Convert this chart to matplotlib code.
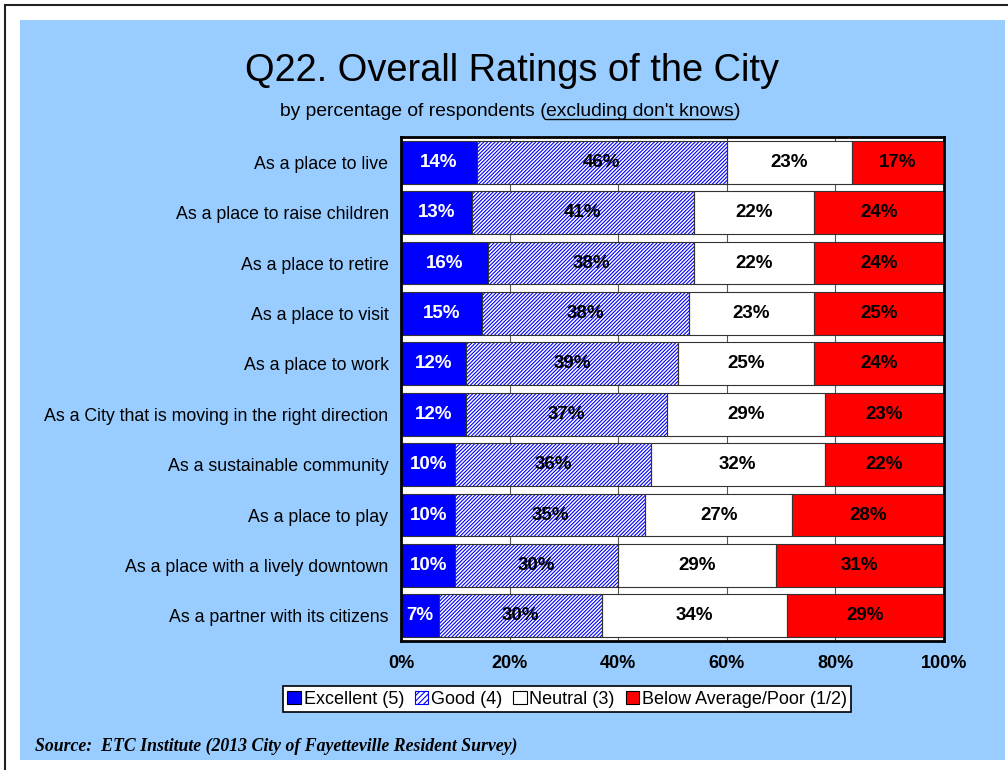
import matplotlib.pyplot as plt
from matplotlib.patches import Rectangle, Patch
import numpy as np

plt.rcParams['font.family'] = ['Liberation Sans', 'DejaVu Sans']
plt.rcParams['hatch.linewidth'] = 0.8

# survey data (percent of respondents)
categories = [
    "As a place to live",
    "As a place to raise children",
    "As a place to retire",
    "As a place to visit",
    "As a place to work",
    "As a City that is moving in the right direction",
    "As a sustainable community",
    "As a place to play",
    "As a place with a lively downtown",
    "As a partner with its citizens",
]
excellent = [14, 13, 16, 15, 12, 12, 10, 10, 10, 7]
good = [46, 41, 38, 38, 39, 37, 36, 35, 30, 30]
neutral = [23, 22, 22, 23, 25, 29, 32, 27, 29, 34]
below = [17, 24, 24, 25, 24, 23, 22, 28, 31, 29]
series_names = ["Excellent (5)", "Good (4)", "Neutral (3)", "Below Average/Poor (1/2)"]
xticks = [0, 20, 40, 60, 80, 100]

W, H = 1008, 770
fig = plt.figure(figsize=(W / 100, H / 100), dpi=100)
fig.patch.set_facecolor('white')

# background panel + frame line
fig.add_artist(Rectangle((20 / W, 1 - 760 / H), 985 / W, 740 / H,
                         transform=fig.transFigure, facecolor='#99CCFF',
                         edgecolor='none', zorder=0))
fig.add_artist(Rectangle((5 / W, -0.1), 1.2, 1 - 5 / H + 0.1,
                         transform=fig.transFigure, facecolor='none',
                         edgecolor='#222222', linewidth=1.5, zorder=0))

ax = fig.add_axes([401 / W, 1 - 641 / H, 543 / W, 504 / H])
ax.set_facecolor('white')

y = np.arange(len(categories))
h = 0.85
ex = np.array(excellent)
gd = np.array(good)
nt = np.array(neutral)
bl = np.array(below)
hatch = '/' * 9

ax.barh(y, ex, height=h, color='#0000FF', edgecolor='#333333', linewidth=0.8, zorder=2)
ax.barh(y, gd, left=ex, height=h, color='white', edgecolor='#0000FF',
        hatch=hatch, linewidth=0, zorder=2)
ax.barh(y, gd, left=ex, height=h, color='none', edgecolor='#333333', linewidth=0.8, zorder=3)
ax.barh(y, nt, left=ex + gd, height=h, color='white', edgecolor='#333333', linewidth=0.8, zorder=2)
ax.barh(y, bl, left=ex + gd + nt, height=h, color='#FF0000', edgecolor='#333333', linewidth=0.8, zorder=2)

starts = [np.zeros(len(y)), ex, ex + gd, ex + gd + nt]
for vals, st, col in zip([ex, gd, nt, bl], starts, ['white', 'black', 'black', 'black']):
    for i, (v, s) in enumerate(zip(vals, st)):
        ax.text(min(s + v / 2, (s + 100) / 2), i, f"{v}%", ha='center', va='center',
                color=col, fontsize=13.5, fontweight='bold', zorder=5)

ax.set_xlim(0, 100)
ax.set_ylim(len(categories) - 0.5, -0.5)
ax.set_yticks(y)
ax.set_yticklabels(categories, fontsize=12.8)
ax.tick_params(axis='y', length=0, pad=9)
ax.set_xticks(xticks)
ax.set_xticklabels([f"{t}%" for t in xticks], fontsize=13, fontweight='bold')
ax.tick_params(axis='x', length=0, pad=10)
ax.xaxis.grid(True, color='#555555', linewidth=0.8, zorder=0)
ax.set_axisbelow(True)
for sp in ax.spines.values():
    sp.set_linewidth(2)
    sp.set_color('black')

# title + subtitle
fig.text(512 / W, 1 - 71 / H, "Q22. Overall Ratings of the City", ha='center',
         va='center', fontsize=27.4)

renderer = fig.canvas.get_renderer()
parts = ["by percentage of respondents (", "excluding don't knows", ")"]
sub_kw = dict(fontsize=13.9, va='baseline', ha='left')
widths = []
for p in parts:
    t = fig.text(0, 0, p, **sub_kw)
    widths.append(t.get_window_extent(renderer).width)
    t.remove()
x0 = 510 - sum(widths) / 2
base = H - 116
xpos = x0
for k, p in enumerate(parts):
    fig.text(xpos / W, base / H, p, **sub_kw)
    if k == 1:
        fig.add_artist(plt.Line2D([xpos / W, (xpos + widths[k]) / W],
                                  [(base - 3) / H, (base - 3) / H],
                                  transform=fig.transFigure, color='black', linewidth=1.0))
    xpos += widths[k]

# legend
handles = [
    Patch(facecolor='#0000FF', edgecolor='black', linewidth=0.8),
    Patch(facecolor='white', edgecolor='#0000FF', hatch='/' * 6, linewidth=0.8),
    Patch(facecolor='white', edgecolor='black', linewidth=0.8),
    Patch(facecolor='#FF0000', edgecolor='black', linewidth=0.8),
]
leg = fig.legend(handles, series_names, loc='center', bbox_to_anchor=(567 / W, 1 - 699 / H),
                 ncol=4, fontsize=13, frameon=True, fancybox=False, handlelength=0.75,
                 handleheight=0.75, handletextpad=0.15, columnspacing=0.6,
                 borderpad=0.25, borderaxespad=0, framealpha=1)
leg.get_frame().set_edgecolor('black')
leg.get_frame().set_facecolor('white')
leg.get_frame().set_linewidth(1.2)

fig.text(35 / W, 1 - 746 / H, "Source:  ETC Institute (2013 City of Fayetteville Resident Survey)",
         fontsize=12.8, fontweight='bold', fontstyle='italic', family='Liberation Serif',
         ha='left', va='center')

fig.savefig('out.png', dpi=100)
